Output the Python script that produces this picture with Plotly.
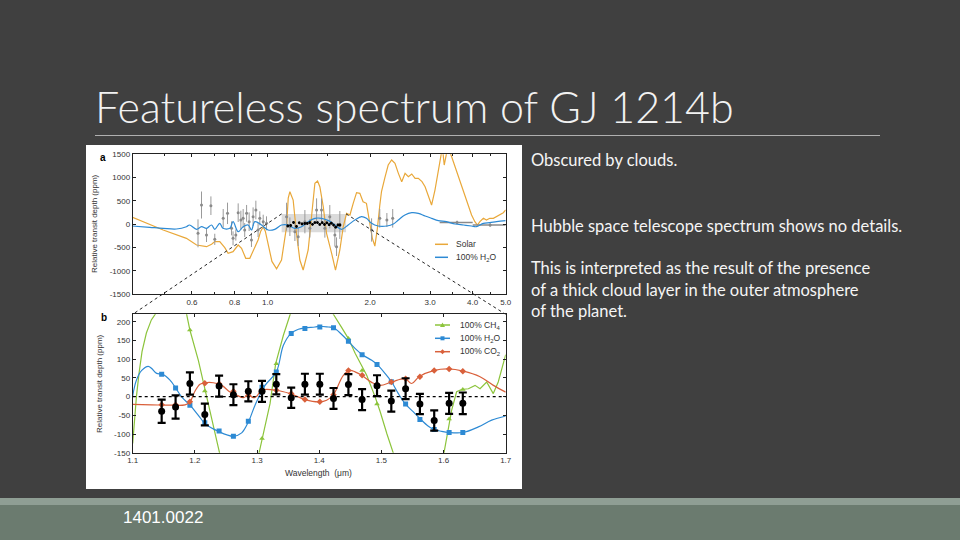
import math
import plotly.graph_objects as go

# ---------------------------------------------------------------- data
# Panel a : model spectra and observations (wavelength in micron, log axis)
solar_wl = [0.40, 0.494, 0.578, 0.619, 0.662, 0.685, 0.70, 0.724, 0.749, 0.766, 0.792, 0.82, 0.839,
            0.863, 0.887, 0.918, 0.938, 0.955, 0.971, 0.985, 1.004, 1.03, 1.063, 1.099, 1.137, 1.15,
            1.163, 1.189, 1.216, 1.244, 1.272, 1.316, 1.346, 1.377, 1.402, 1.424, 1.457, 1.49, 1.542,
            1.583, 1.63, 1.668, 1.706, 1.745, 1.784, 1.825, 1.866, 1.907, 1.951, 1.996, 2.03, 2.065,
            2.10, 2.135, 2.16, 2.21, 2.26, 2.313, 2.366, 2.421, 2.476, 2.533, 2.59, 2.65, 2.71, 2.77,
            2.84, 2.90, 2.97, 3.03, 3.10, 3.17, 3.22, 3.26, 3.30, 3.38, 3.47, 3.55, 3.63, 3.71, 3.80,
            3.89, 3.97, 4.06, 4.13, 4.20, 4.30, 4.39, 4.49, 4.60, 4.70, 4.81, 4.92, 5.0]
solar_ppm = [150, -126, -304, -448, -484, -433, -376, -376, -505, -627, -591, -448, -519,
             -734, -734, -484, -340, -150, -55, -150, -412, -800, -960, -770, -55, 560,
             697, 518, -197, -770, -985, -555, 160, 877, 926, 804, 375, -197, -626,
             -985, -555, -55, 233, 196, 447, 676, 662, 482, 447, 53, -300, -470,
             -100, 400, 700, 1000, 1270, 1377, 1306, 1091, 912, 1091, 1019, 1077, 984, 984,
             912, 804, 590, 411, 733, 1163, 1485, 1650, 1270, 1650, 1448, 1234, 1019, 804, 590,
             375, 196, 53, -18, 53, 125, 89, 125, 125, 160, 196, 246, 304]

h2o_a_wl = [0.40, 0.451, 0.494, 0.54, 0.578, 0.59, 0.619, 0.64, 0.662, 0.685, 0.70, 0.724, 0.74,
            0.775, 0.792, 0.82, 0.848, 0.877, 0.897, 0.918, 0.96, 1.004, 1.05, 1.099, 1.15, 1.203,
            1.258, 1.316, 1.377, 1.44, 1.51, 1.576, 1.649, 1.724, 1.804, 1.887, 1.951, 2.02, 2.11,
            2.24, 2.34, 2.42, 2.53, 2.65, 2.77, 2.90, 3.03, 3.17, 3.35, 3.55, 3.76, 3.97, 4.10,
            4.30, 4.49, 4.70, 5.0]
h2o_a_ppm = [-40, -68, -90, -104, -55, -18, -111, -55, -90, -18, -111, 18, -90,
             -90, 53, -162, -55, -18, -126, 53, -18, -126, -111, -18, -18, -90,
             -55, 53, 125, 125, 75, -18, -111, -18, 89, 160, 125, 18, -40,
             -40, 3, 89, 196, 246, 232, 175, 125, 75, 53, 3, -18, -40, -55,
             18, 32, 53, 75]

obs_wl = [0.625, 0.64, 0.662, 0.682, 0.70, 0.741, 0.763, 0.784, 0.792, 0.807, 0.82, 0.835, 0.848,
          0.857, 0.868, 0.883, 0.897, 0.907, 0.924, 0.938, 0.949, 0.971, 0.993, 1.137, 1.163, 1.203,
          1.23, 1.287, 1.331, 1.393, 1.44, 1.473, 1.523, 1.576, 1.594, 1.63, 2.02, 2.135, 2.24, 2.33]
obs_ppm = [-197, 411, -233, 396, -326, 125, 232, -90, -304, -233, 246, 89, 125,
           -126, 232, 53, -340, 160, 304, -126, 125, 53, 18, 160, -55, -162,
           -269, 53, -90, 304, 304, -90, 160, -233, -484, -18, -125, 125, 89, 125]
obs_err = [300, 290, 150, 200, 120, 200, 230, 150, 150, 120, 200, 200, 200,
           150, 180, 200, 150, 200, 200, 150, 150, 150, 150, 300, 200, 200,
           200, 250, 200, 250, 250, 200, 250, 250, 200, 300, 250, 200, 150, 200]

spitzer_wl = [3.6, 4.5]
spitzer_ppm = [35, -18]
spitzer_halfwidth = [0.4, 0.5]
spitzer_err = [40, 40]

zoom_box_wl = [1.1, 1.7]
zoom_box_ppm = [-175, 220]

# Panel b : HST/WFC3 transmission spectrum and binned models
hst_wl = [1.1466, 1.169, 1.192, 1.216, 1.239, 1.262, 1.286, 1.308, 1.331, 1.355, 1.377,
          1.401, 1.423, 1.447, 1.469, 1.493, 1.516, 1.539, 1.562, 1.585, 1.609, 1.631]
hst_ppm = [-39, -28, 35, -48, 28, 5, 14, 14, 33, -3, 33, 33, -5, 32, -8, 29, -12, 21, -20, -64, -18, -18]
hst_err = [31, 31, 30, 29, 28, 28, 27, 28, 27, 27, 28, 28, 28, 28, 28, 28, 28, 28, 27, 27, 28, 29]

h2o_b_wl = [1.1, 1.106, 1.1145, 1.125, 1.1306, 1.1386, 1.1477, 1.16, 1.1692, 1.1788, 1.1922,
            1.2056, 1.2164, 1.2378, 1.2619, 1.2753, 1.286, 1.2968, 1.3129, 1.3311, 1.3424, 1.3547,
            1.3665, 1.3772, 1.3933, 1.4008, 1.4147, 1.4233, 1.4362, 1.4469, 1.4576, 1.4694,
            1.4845, 1.493, 1.5059, 1.5166, 1.5273, 1.5392, 1.5515, 1.5622, 1.5756, 1.5853,
            1.597, 1.6088, 1.6314, 1.656, 1.6775, 1.7]
h2o_b_ppm = [2, 44, 70, 81, 75, 62, 60, 44, 23, -1, -23,
             -50, -72, -93, -106, -97, -68, -23, 30, 66, 137, 169,
             180, 184, 186, 188, 186, 184, 166, 148, 129, 112,
             97, 86, 62, 39, 8, -21, -41, -59, -79, -88,
             -93, -96, -96, -81, -63, -52]
h2o_bin = [60, 23, -23, -70, -92, -106, -66, 25, 66, 169, 182,
           186, 184, 148, 112, 86, 40, -20, -61, -88, -96, -96]

co2_b_wl = [1.1, 1.1306, 1.1627, 1.1842, 1.1922, 1.2003, 1.2083, 1.2164, 1.2298, 1.2432, 1.2566,
            1.2673, 1.278, 1.2861, 1.2941, 1.2995, 1.3075, 1.3311, 1.3531, 1.3772, 1.3997, 1.412,
            1.4228, 1.4389, 1.4496, 1.4576, 1.4684, 1.4845, 1.4979, 1.5166, 1.5381, 1.5488,
            1.5606, 1.5853, 1.6078, 1.6319, 1.6587, 1.6802, 1.7]
co2_b_ppm = [-21, -22, -23, -22, -14, 15, 33, 37, 37, 30, 12,
             4, -3, 4, -3, 1, 17, 17, 8, -8, -14, -10,
             5, 57, 70, 66, 57, 38, 30, 39, 48, 35,
             53, 70, 74, 68, 53, 30, 12]
co2_bin = [-22, -22, -14, 36, 34, 14, 3, 17, 17, 8, -8,
           -14, 5, 70, 57, 32, 39, 48, 53, 70, 74, 68]

ch4_b_wl = [1.1, 1.103, 1.106, 1.11, 1.115, 1.122, 1.13, 1.137, 1.139, None,
            1.186, 1.192, 1.2056, 1.219, 1.2298, 1.2394, 1.241, None,
            1.302, 1.3086, 1.3209, 1.33, 1.3424, 1.353, 1.355, None,
            1.421, 1.4228, 1.436, 1.447, 1.458, 1.4764, 1.4898, 1.498, 1.509, 1.519, 1.521, None,
            1.5997, 1.605, 1.613, 1.621, 1.629, 1.64, 1.6507, 1.6587, 1.6694, 1.68, 1.688, 1.699, 1.7]
ch4_b_ppm = [-125, -60, 0, 60, 120, 170, 205, 222, 230, None,
             226, 178, 97, 0, -81, -153, -160, None,
             -160, -112, -19, 88, 164, 218, 228, None,
             228, 220, 185, 155, 115, 57, 0, -40, -100, -150, -160, None,
             -160, -108, -37, 13, 19, 21, 30, 21, 39, 8, 39, 106, 112]
ch4_bin = [None, None, 178, 15, None, None, None, -112, 88, None, None,
           None, None, 155, 70, -20, None, None, None, None, -60, 19]

# tick labels
a_xticks = [0.6, 0.8, 1.0, 2.0, 3.0, 4.0, 5.0]
a_xticktext = ["0.6", "0.8", "1.0", "2.0", "3.0", "4.0", "5.0"]
a_xminor = [0.5, 0.7, 0.9, 1.5, 2.5, 3.5, 4.5]
a_yticks = [-1500, -1000, -500, 0, 500, 1000, 1500]
a_yticktext = ["-1500", "-1000", "-500", "0", "500", "1000", "1500"]
b_xticks = [1.1, 1.2, 1.3, 1.4, 1.5, 1.6, 1.7]
b_xticktext = ["1.1", "1.2", "1.3", "1.4", "1.5", "1.6", "1.7"]
b_yticks = [-150, -100, -50, 0, 50, 100, 150, 200]
b_yticktext = ["-150", "-100", "-50", "0", "50", "100", "150", "200"]

# ---------------------------------------------------------------- styling
W, H = 960, 540
BG = "#404040"
ORANGE = "#e9a83a"
BLUE = "#2d8ad4"
RED = "#d9603b"
GREEN = "#8cc43c"
GRAY = "#8a8a8a"
AXC = "#222222"
TXT = "#333333"
FIG_FONT = "Liberation Sans, Arial, sans-serif"

A_LEFT, A_RIGHT = 132.7, 505.7
A_TOP, A_BOT = 154.3, 294.0
B_TOP, B_BOT = 314.3, 452.7
A_XRANGE = [0.402, 5.0]
A_YRANGE = [-1500, 1500]
B_XRANGE = [1.1, 1.7]
B_YRANGE = [-150, 220]


def pxx(x):
    return x / W


def pxy(y):
    return 1 - y / H


def a_to_px(wl, ppm):
    lx0, lx1 = math.log10(A_XRANGE[0]), math.log10(A_XRANGE[1])
    x = A_LEFT + (math.log10(wl) - lx0) / (lx1 - lx0) * (A_RIGHT - A_LEFT)
    y = A_BOT - (ppm - A_YRANGE[0]) / (A_YRANGE[1] - A_YRANGE[0]) * (A_BOT - A_TOP)
    return x, y


fig = go.Figure()

# ---- panel a
bx = [zoom_box_wl[0], zoom_box_wl[1], zoom_box_wl[1], zoom_box_wl[0], zoom_box_wl[0]]
by = [zoom_box_ppm[0], zoom_box_ppm[0], zoom_box_ppm[1], zoom_box_ppm[1], zoom_box_ppm[0]]
fig.add_trace(go.Scatter(x=bx, y=by, fill="toself", fillcolor="rgba(190,190,190,0.55)",
                         mode="lines", line=dict(width=0), xaxis="x", yaxis="y",
                         hoverinfo="skip", showlegend=False))
fig.add_trace(go.Scatter(x=solar_wl, y=solar_ppm, mode="lines", name="Solar",
                         line=dict(color=ORANGE, width=1.2), xaxis="x", yaxis="y", showlegend=False))
fig.add_trace(go.Scatter(x=obs_wl, y=obs_ppm, mode="markers",
                         marker=dict(color=GRAY, size=3),
                         error_y=dict(type="data", array=obs_err, color="#9a9a9a", thickness=1, width=0),
                         xaxis="x", yaxis="y", showlegend=False))
fig.add_trace(go.Scatter(x=spitzer_wl, y=spitzer_ppm, mode="markers",
                         marker=dict(color=GRAY, size=3),
                         error_x=dict(type="data", array=spitzer_halfwidth, color=GRAY, thickness=1.5, width=0),
                         error_y=dict(type="data", array=spitzer_err, color=GRAY, thickness=1, width=0),
                         xaxis="x", yaxis="y", showlegend=False))
fig.add_trace(go.Scatter(x=h2o_a_wl, y=h2o_a_ppm, mode="lines", name="100% H2O",
                         line=dict(color=BLUE, width=1.2, shape="spline"), xaxis="x", yaxis="y",
                         showlegend=False))
fig.add_trace(go.Scatter(x=hst_wl, y=hst_ppm, mode="markers",
                         marker=dict(color="black", size=2.8),
                         error_y=dict(type="data", array=hst_err, color="black", thickness=1, width=0),
                         xaxis="x", yaxis="y", showlegend=False))

# ---- panel b
fig.add_trace(go.Scatter(x=ch4_b_wl, y=ch4_b_ppm, mode="lines", line=dict(color=GREEN, width=1.2),
                         connectgaps=False, xaxis="x2", yaxis="y2", showlegend=False))
fig.add_trace(go.Scatter(x=hst_wl, y=ch4_bin, mode="markers",
                         marker=dict(color=GREEN, size=5, symbol="triangle-up"),
                         xaxis="x2", yaxis="y2", showlegend=False))
fig.add_trace(go.Scatter(x=h2o_b_wl, y=h2o_b_ppm, mode="lines",
                         line=dict(color=BLUE, width=1.2, shape="spline"),
                         xaxis="x2", yaxis="y2", showlegend=False))
fig.add_trace(go.Scatter(x=hst_wl, y=h2o_bin, mode="markers",
                         marker=dict(color=BLUE, size=5, symbol="square"),
                         xaxis="x2", yaxis="y2", showlegend=False))
fig.add_trace(go.Scatter(x=co2_b_wl, y=co2_b_ppm, mode="lines",
                         line=dict(color=RED, width=1.2, shape="spline"),
                         xaxis="x2", yaxis="y2", showlegend=False))
fig.add_trace(go.Scatter(x=hst_wl, y=co2_bin, mode="markers",
                         marker=dict(color=RED, size=5, symbol="diamond"),
                         xaxis="x2", yaxis="y2", showlegend=False))
fig.add_trace(go.Scatter(x=hst_wl, y=hst_ppm, mode="markers",
                         marker=dict(color="black", size=7),
                         error_y=dict(type="data", array=hst_err, color="black", thickness=2.2, width=4),
                         xaxis="x2", yaxis="y2", showlegend=False))

axis_common = dict(showline=True, linecolor=AXC, linewidth=1, mirror="ticks", ticks="inside",
                   ticklen=3, tickcolor=AXC, showgrid=False, zeroline=False, automargin=False,
                   tickfont=dict(family=FIG_FONT, size=8, color=TXT))

fig.update_layout(
    width=W, height=H, autosize=False,
    margin=dict(l=0, r=0, t=0, b=0, pad=0),
    paper_bgcolor=BG, plot_bgcolor="white",
    showlegend=False,
    xaxis=dict(axis_common, type="log",
               range=[math.log10(A_XRANGE[0]), math.log10(A_XRANGE[1])],
               domain=[pxx(A_LEFT), pxx(A_RIGHT)], anchor="y",
               tickvals=a_xticks, ticktext=a_xticktext,
               minor=dict(tickvals=a_xminor, ticks="inside", ticklen=2, tickcolor=AXC)),
    yaxis=dict(axis_common, range=A_YRANGE, domain=[pxy(A_BOT), pxy(A_TOP)], anchor="x",
               tickvals=a_yticks, ticktext=a_yticktext),
    xaxis2=dict(axis_common, range=B_XRANGE, domain=[pxx(A_LEFT), pxx(A_RIGHT)], anchor="y2",
                tickvals=b_xticks, ticktext=b_xticktext),
    yaxis2=dict(axis_common, range=B_YRANGE, domain=[pxy(B_BOT), pxy(B_TOP)], anchor="x2",
                tickvals=b_yticks, ticktext=b_yticktext),
)

shapes = []
# slide decorations
shapes.append(dict(type="rect", xref="paper", yref="paper", x0=0, x1=1, y0=pxy(540), y1=pxy(498),
                   fillcolor="#8f9e94", line=dict(width=0), layer="below"))
shapes.append(dict(type="rect", xref="paper", yref="paper", x0=0, x1=1, y0=pxy(540), y1=pxy(505),
                   fillcolor="#6b7b6f", line=dict(width=0), layer="below"))
shapes.append(dict(type="line", xref="paper", yref="paper", x0=pxx(95), x1=pxx(880), y0=pxy(135.5),
                   y1=pxy(135.5), line=dict(color="#b0b0b0", width=1), layer="below"))
shapes.append(dict(type="rect", xref="paper", yref="paper", x0=pxx(86), x1=pxx(522), y0=pxy(489),
                   y1=pxy(145), fillcolor="white", line=dict(width=0), layer="below"))
# zero line in panel b
shapes.append(dict(type="line", xref="x2 domain", yref="y2", x0=0, x1=1, y0=0, y1=0,
                   line=dict(color="black", width=1.2, dash="dot")))
# connector lines from zoom box to panel b
lx, ly = a_to_px(zoom_box_wl[0], zoom_box_ppm[1])
rx, ry = a_to_px(zoom_box_wl[1], zoom_box_ppm[1])
shapes.append(dict(type="line", xref="paper", yref="paper", x0=pxx(lx), y0=pxy(ly),
                   x1=pxx(A_LEFT), y1=pxy(B_TOP), line=dict(color="#222", width=1, dash="dot")))
shapes.append(dict(type="line", xref="paper", yref="paper", x0=pxx(rx), y0=pxy(ry),
                   x1=pxx(A_RIGHT), y1=pxy(B_TOP), line=dict(color="#222", width=1, dash="dot")))

annotations = []


def ann(text, x, y, size, color, family, xanchor="left", yanchor="middle", weight=None, **kw):
    font = dict(size=size, color=color, family=family)
    if weight is not None:
        font["weight"] = weight
    annotations.append(dict(text=text, x=pxx(x), y=pxy(y), xref="paper", yref="paper",
                            xanchor=xanchor, yanchor=yanchor, showarrow=False, font=font, **kw))


# legends (manual, compact)
leg_a = [("Solar", ORANGE, 244.3), ("100% H<sub>2</sub>O", BLUE, 257.3)]
for label, col, y in leg_a:
    shapes.append(dict(type="line", xref="paper", yref="paper", x0=pxx(435), x1=pxx(448),
                       y0=pxy(y), y1=pxy(y), line=dict(color=col, width=1.5)))
    ann(label, 454, y, 8.5, TXT, FIG_FONT)

leg_b = [("100% CH<sub>4</sub>", GREEN, 325.0, "tri"), ("100% H<sub>2</sub>O", BLUE, 338.3, "sq"),
         ("100% CO<sub>2</sub>", RED, 351.7, "dia")]
for label, col, y, sym in leg_b:
    shapes.append(dict(type="line", xref="paper", yref="paper", x0=pxx(435), x1=pxx(450),
                       y0=pxy(y), y1=pxy(y), line=dict(color=col, width=1.5)))
    cx = 442.5
    if sym == "sq":
        shapes.append(dict(type="rect", xref="paper", yref="paper", x0=pxx(cx - 2), x1=pxx(cx + 2),
                           y0=pxy(y + 2), y1=pxy(y - 2), fillcolor=col, line=dict(width=0)))
    elif sym == "tri":
        path = "M {} {} L {} {} L {} {} Z".format(pxx(cx - 2.5), pxy(y + 2), pxx(cx + 2.5), pxy(y + 2),
                                                   pxx(cx), pxy(y - 2.5))
        shapes.append(dict(type="path", xref="paper", yref="paper", path=path, fillcolor=col,
                           line=dict(width=0)))
    else:
        path = "M {} {} L {} {} L {} {} L {} {} Z".format(pxx(cx - 2.5), pxy(y), pxx(cx), pxy(y - 2.5),
                                                          pxx(cx + 2.5), pxy(y), pxx(cx), pxy(y + 2.5))
        shapes.append(dict(type="path", xref="paper", yref="paper", path=path, fillcolor=col,
                           line=dict(width=0)))
    ann(label, 458, y, 8.5, TXT, FIG_FONT)

# panel letters and axis titles
ann("<b>a</b>", 103, 157, 10, "black", FIG_FONT, xanchor="center")
ann("<b>b</b>", 104, 317, 10, "black", FIG_FONT, xanchor="center")
ann("Relative transit depth (ppm)", 95, 224, 8, TXT, FIG_FONT, xanchor="center", textangle=-90)
ann("Relative transit depth (ppm)", 99, 384, 8, TXT, FIG_FONT, xanchor="center", textangle=-90)
ann("Wavelength  (μm)", 318, 473, 8.5, TXT, FIG_FONT, xanchor="center")

# slide texts
ann("Featureless spectrum of GJ 1214b", 93, 106, 43, "#f2f2f2", "Lato", weight=300)
BODY = "Lato"
ann("Obscured by clouds.", 529, 160, 16.5, "#f5f5f5", BODY)
ann("Hubble space telescope spectrum shows no details.", 529, 226, 16.5, "#f5f5f5", BODY)
ann("This is interpreted as the result of the presence", 529, 268, 16.5, "#f5f5f5", BODY)
ann("of a thick cloud layer in the outer atmosphere", 529, 290, 16.5, "#f5f5f5", BODY)
ann("of the planet.", 529, 311, 16.5, "#f5f5f5", BODY)
ann("1401.0022", 121, 517, 17, "white", FIG_FONT)

fig.update_layout(shapes=shapes, annotations=annotations)
post = ("document.documentElement.style.margin='0';document.documentElement.style.padding='0';"
        "document.documentElement.style.overflow='hidden';"
        "document.body.style.margin='0';document.body.style.padding='0';document.body.style.overflow='hidden';"
        "document.body.style.background='" + BG + "';"
        "var d=document.getElementById('{plot_id}');d.style.position='fixed';d.style.left='0px';"
        "d.style.top='0px';d.style.width='960px';d.style.height='540px';")
fig.write_html("out.html", config={"displayModeBar": False, "responsive": False},
               post_script=post)
